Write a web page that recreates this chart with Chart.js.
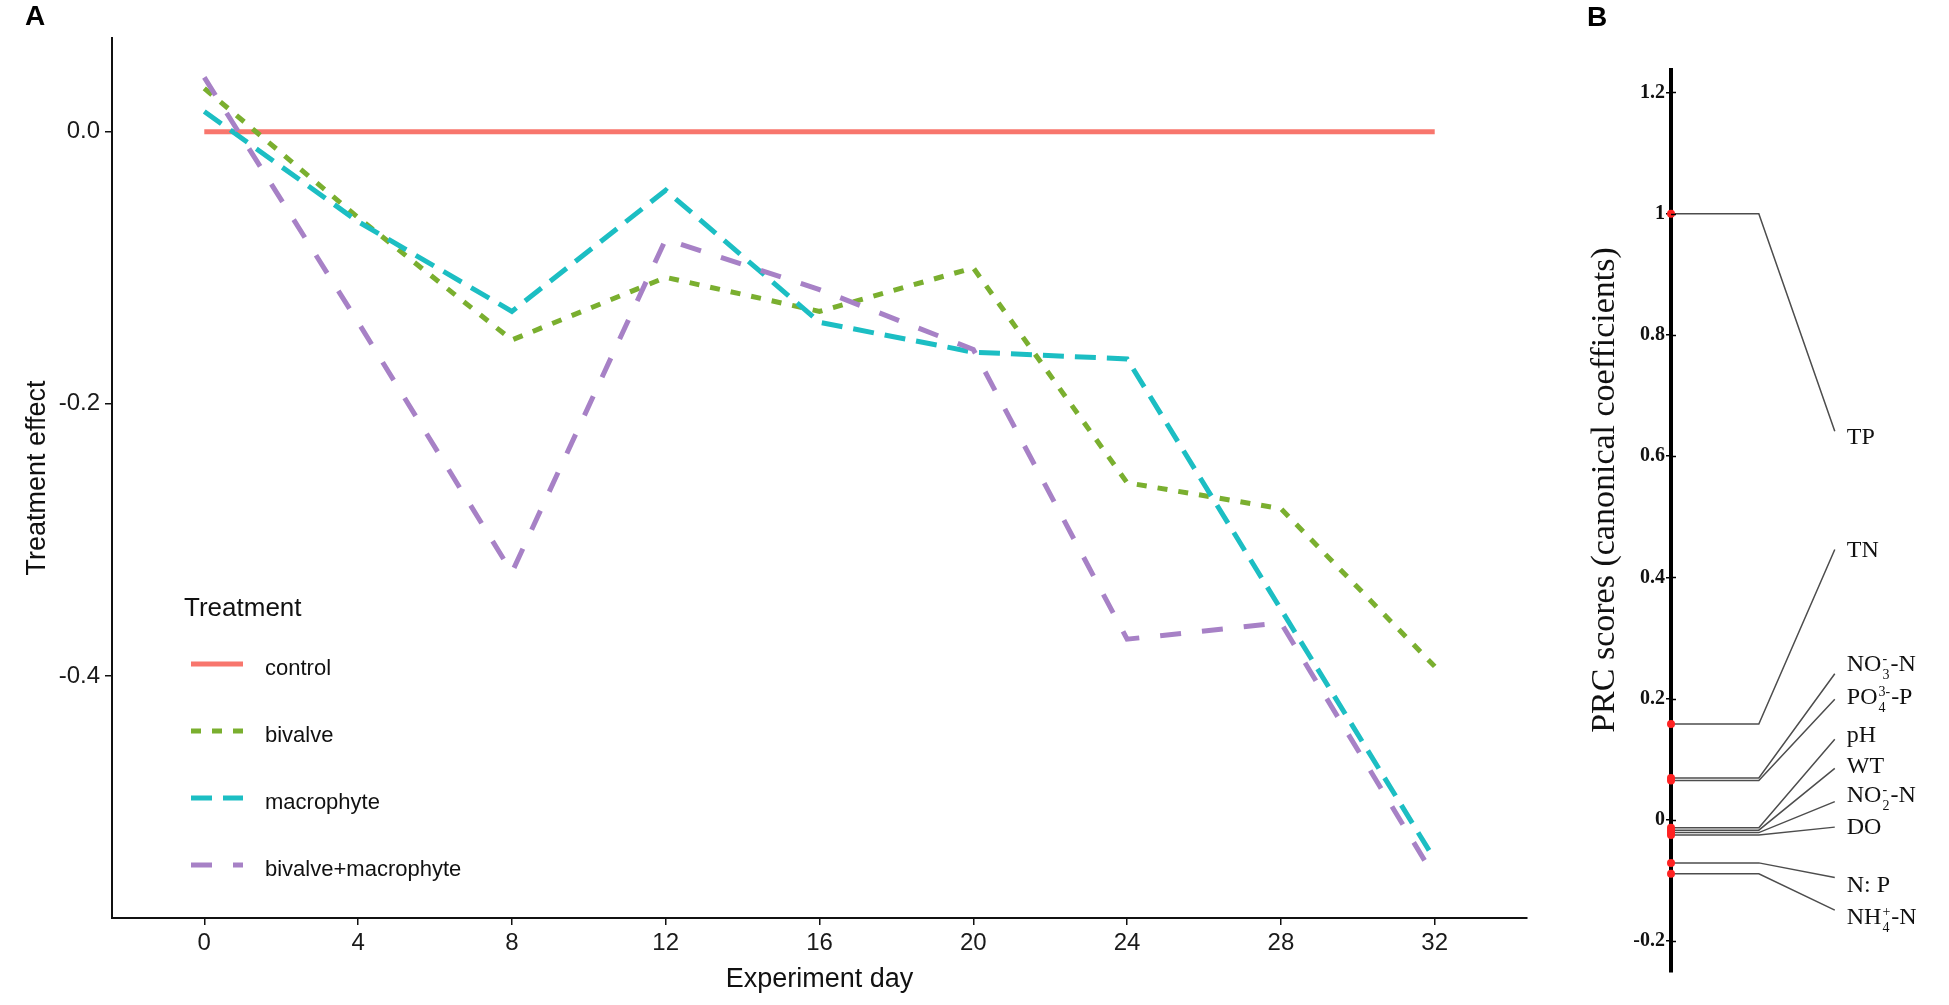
<!DOCTYPE html>
<html>
<head>
<meta charset="utf-8">
<script src="https://cdn.jsdelivr.net/npm/chart.js@4.4.1/dist/chart.umd.min.js"></script>
<style>
  html, body { margin: 0; padding: 0; background: #fff; }
  #wrap { position: relative; width: 1949px; height: 1005px; overflow: hidden; background: #fff; }
  canvas { position: absolute; top: 0; }
  #chartA { left: 0; }
  #chartB { left: 1560px; }
  .panel { position: absolute; font-family: "Liberation Sans", Arial, sans-serif; font-weight: bold; font-size: 28px; line-height: 28px; color: #000; }
</style>
</head>
<body>
<div id="wrap">
  <canvas id="chartA" width="1560" height="1005"></canvas>
  <canvas id="chartB" width="389" height="1005"></canvas>
  <div class="panel" style="left:25px; top:2px;">A</div>
  <div class="panel" style="left:1587px; top:3px;">B</div>
</div>
<script>
// ---------------- Panel A data ----------------
const days = [0, 4, 8, 12, 16, 20, 24, 28, 32];
const controlEffect = [0, 0, 0, 0, 0, 0, 0, 0, 0];
const bivalveEffect = [0.032, -0.063, -0.153, -0.107, -0.132, -0.100, -0.258, -0.277, -0.393];
const macrophyteEffect = [0.015, -0.066, -0.132, -0.043, -0.140, -0.162, -0.167, -0.351, -0.535];
const bivalveMacrophyteEffect = [0.040, -0.140, -0.324, -0.079, -0.116, -0.160, -0.373, -0.361, -0.548];
const treatmentNames = ['control', 'bivalve', 'macrophyte', 'bivalve+macrophyte'];
const xTickValues = [0, 4, 8, 12, 16, 20, 24, 28, 32];
const yTickValues = [0.0, -0.2, -0.4];

// ---------------- Panel B data ----------------
const prcVariables = ['TP', 'TN', 'NO3-N', 'PO4-P', 'pH', 'WT', 'NO2-N', 'DO', 'N:P', 'NH4-N'];
const prcScores = [1.0, 0.158, 0.069, 0.065, -0.013, -0.017, -0.021, -0.025, -0.071, -0.089];
const prcLeaderEnd = [0.641, 0.446, 0.241, 0.199, 0.133, 0.085, 0.030, -0.012, -0.095, -0.149];
const prcTextPos = [0.633, 0.446, 0.259, 0.204, 0.141, 0.091, 0.043, -0.010, -0.106, -0.159];
const prcLabelParts = [
  [{t: 'TP'}],
  [{t: 'TN'}],
  [{t: 'NO'}, {sup: '-', sub: '3'}, {t: '-N'}],
  [{t: 'PO'}, {sup: '3-', sub: '4'}, {t: '-P'}],
  [{t: 'pH'}],
  [{t: 'WT'}],
  [{t: 'NO'}, {sup: '-', sub: '2'}, {t: '-N'}],
  [{t: 'DO'}],
  [{t: 'N: P'}],
  [{t: 'NH'}, {sup: '+', sub: '4'}, {t: '-N'}]
];
const prcTickValues = [1.2, 1, 0.8, 0.6, 0.4, 0.2, 0, -0.2];

// ---------------- layout / style constants ----------------
const SANS = '"Liberation Sans", Arial, sans-serif';
const SERIF = '"Liberation Serif", "Times New Roman", serif';
const LEADER_BEND = 1;
const LEADER_TIP = 1.865;

const seriesValues = [controlEffect, bivalveEffect, macrophyteEffect, bivalveMacrophyteEffect];
const seriesStyles = [
  {color: '#F8766D', dash: [], order: 3},
  {color: '#7AAF2F', dash: [10, 11], order: 2},
  {color: '#1CBEC3', dash: [21, 11], order: 1},
  {color: '#A781C6', dash: [21, 21], order: 0}
];

const ggLegend = {
  id: 'ggLegend',
  afterDraw(chart, args, o) {
    const ctx = chart.ctx;
    ctx.save();
    ctx.fillStyle = '#111';
    ctx.textBaseline = 'alphabetic';
    ctx.textAlign = 'left';
    ctx.font = '26px ' + SANS;
    ctx.fillText(o.title, o.titleX, o.titleBase);
    chart.data.datasets.forEach((ds, i) => {
      const y = o.firstY + i * o.gap;
      ctx.strokeStyle = ds.borderColor;
      ctx.lineWidth = ds.borderWidth;
      ctx.lineCap = 'butt';
      ctx.setLineDash(ds.borderDash || []);
      ctx.beginPath();
      ctx.moveTo(o.keyX, y);
      ctx.lineTo(o.keyX + o.keyW, y);
      ctx.stroke();
      ctx.setLineDash([]);
      ctx.font = '22px ' + SANS;
      ctx.fillStyle = '#111';
      ctx.fillText(ds.label, o.textX, y + 11);
    });
    ctx.restore();
  }
};

const prcLabels = {
  id: 'prcLabels',
  afterDraw(chart) {
    const {ctx, scales: {x, y}} = chart;
    ctx.save();
    ctx.fillStyle = '#111';
    ctx.textBaseline = 'alphabetic';
    ctx.textAlign = 'left';
    prcLabelParts.forEach((parts, i) => {
      let px = x.getPixelForValue(LEADER_TIP) + 12;
      const base = y.getPixelForValue(prcTextPos[i]) + 8;
      parts.forEach(p => {
        if (p.t !== undefined) {
          ctx.font = '24px ' + SERIF;
          ctx.fillText(p.t, px, base);
          px += ctx.measureText(p.t).width;
        } else {
          ctx.font = '14px ' + SERIF;
          ctx.fillText(p.sup, px + 1, base - 8);
          ctx.fillText(p.sub, px + 1, base + 8);
          px += Math.max(ctx.measureText(p.sup).width, ctx.measureText(p.sub).width) + 2;
        }
      });
    });
    // small tick marks crossing the axis (inner half)
    ctx.strokeStyle = '#000';
    ctx.lineWidth = 1.5;
    prcTickValues.forEach(v => {
      const py = Math.round(y.getPixelForValue(v)) + 0.5;
      ctx.beginPath();
      ctx.moveTo(chart.chartArea.left, py);
      ctx.lineTo(chart.chartArea.left + 5, py);
      ctx.stroke();
    });
    // rotated axis title
    ctx.translate(45, 490);
    ctx.rotate(-Math.PI / 2);
    ctx.textAlign = 'center';
    ctx.textBaseline = 'middle';
    ctx.font = '34px ' + SERIF;
    ctx.fillText('PRC scores (canonical coefficients)', 0, 0);
    ctx.restore();
  }
};

function draw() {
  new Chart(document.getElementById('chartA'), {
    type: 'line',
    data: {
      datasets: treatmentNames.map((name, k) => ({
        label: name,
        data: days.map((d, i) => ({x: d, y: seriesValues[k][i]})),
        borderColor: seriesStyles[k].color,
        backgroundColor: seriesStyles[k].color,
        borderWidth: 5,
        borderDash: seriesStyles[k].dash,
        order: seriesStyles[k].order,
        pointRadius: 0,
        tension: 0,
        fill: false
      }))
    },
    options: {
      responsive: false,
      animation: false,
      devicePixelRatio: 1,
      layout: {padding: {left: 0, top: 38, right: 33, bottom: 0}},
      plugins: {
        legend: {display: false},
        tooltip: {enabled: false},
        ggLegend: {title: 'Treatment', titleX: 184, titleBase: 616, keyX: 191, keyW: 52, textX: 265, firstY: 664, gap: 67}
      },
      scales: {
        x: {
          type: 'linear', min: -2.4, max: 34.4,
          afterBuildTicks: s => { s.ticks = xTickValues.map(v => ({value: v})); },
          afterFit: s => { s.height = 87; },
          grid: {display: true, drawOnChartArea: false, drawTicks: true, tickLength: 7, color: '#111', lineWidth: 1.5},
          border: {display: true, color: '#111', width: 2},
          ticks: {font: {family: SANS, size: 24}, color: '#1a1a1a', padding: 4, maxRotation: 0, autoSkip: false},
          title: {display: true, text: 'Experiment day', font: {family: SANS, size: 27}, color: '#111', padding: {top: 0, bottom: 9}}
        },
        y: {
          type: 'linear', min: -0.578, max: 0.069,
          afterBuildTicks: s => { s.ticks = yTickValues.map(v => ({value: v})); },
          afterFit: s => { s.width = 112; },
          grid: {display: true, drawOnChartArea: false, drawTicks: true, tickLength: 7, color: '#111', lineWidth: 1.5},
          border: {display: true, color: '#111', width: 2},
          ticks: {font: {family: SANS, size: 24}, color: '#1a1a1a', padding: 5, autoSkip: false, callback: v => Number(v).toFixed(1)},
          title: {display: true, text: 'Treatment effect', font: {family: SANS, size: 27}, color: '#111', padding: {top: 21, bottom: 0}}
        }
      }
    },
    plugins: [ggLegend]
  });

  new Chart(document.getElementById('chartB'), {
    type: 'line',
    data: {
      datasets: prcVariables.map((v, i) => ({
        label: v,
        data: [
          {x: 0, y: prcScores[i]},
          {x: LEADER_BEND, y: prcScores[i]},
          {x: LEADER_TIP, y: prcLeaderEnd[i]}
        ],
        borderColor: '#4d4d4d',
        borderWidth: 1.5,
        pointRadius: [4, 0, 0],
        pointBackgroundColor: '#FF2222',
        pointBorderWidth: 0,
        tension: 0,
        fill: false,
        clip: false
      }))
    },
    options: {
      responsive: false,
      animation: false,
      devicePixelRatio: 1,
      layout: {padding: {left: 0, top: 70, right: 0, bottom: 33}},
      plugins: {legend: {display: false}, tooltip: {enabled: false}},
      scales: {
        x: {type: 'linear', display: false, min: 0, max: 3.12},
        y: {
          type: 'linear', min: -0.251, max: 1.237,
          afterBuildTicks: s => { s.ticks = prcTickValues.map(v => ({value: v})); },
          afterFit: s => { s.width = 111; },
          grid: {display: true, drawOnChartArea: false, drawTicks: true, tickLength: 5, color: '#000', lineWidth: 1.5},
          border: {display: true, color: '#000', width: 4},
          ticks: {font: {family: SERIF, size: 20, weight: 'bold'}, color: '#111', padding: 1, autoSkip: false, callback: v => String(v)}
        }
      }
    },
    plugins: [prcLabels]
  });
}

if (document.fonts && document.fonts.load) {
  Promise.all([
    document.fonts.load('24px "Liberation Sans"'),
    document.fonts.load('24px "Liberation Serif"'),
    document.fonts.load('bold 24px "Liberation Serif"')
  ]).then(draw, draw);
} else {
  draw();
}
</script>
</body>
</html>
